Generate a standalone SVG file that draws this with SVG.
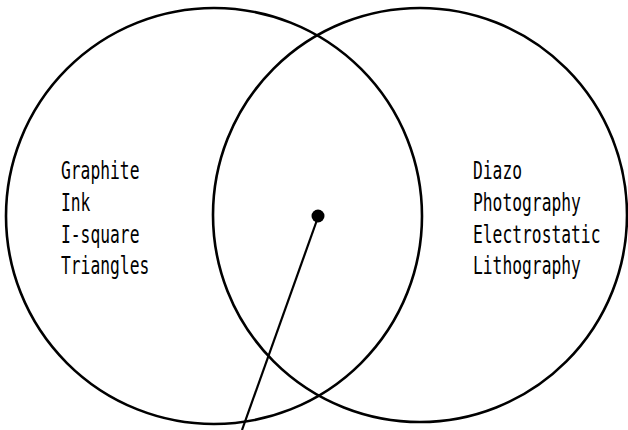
<svg xmlns="http://www.w3.org/2000/svg" width="628" height="430" viewBox="0 0 628 430">
<style>
.ring{fill:none;stroke:#000;stroke-width:2.6}
.lbl{font-family:"DejaVu Sans Mono","Liberation Mono",monospace;font-size:16.3px;fill:#000}
.ptr{stroke:#000;stroke-width:2.2;fill:none}
</style>
<rect width="628" height="430" fill="#fff"/>
<g id="node-drawing">
<circle class="ring" cx="214" cy="216" r="208"/>
<g transform="translate(61,0) scale(1,1.53)">
<text class="lbl" x="0" y="117">Graphite</text>
<text class="lbl" x="0" y="137.9">Ink</text>
<text class="lbl" x="0" y="158.8">I-square</text>
<text class="lbl" x="0" y="179.1">Triangles</text>
</g>
</g>
<g id="node-reproduction">
<circle class="ring" cx="420" cy="215" r="207"/>
<g transform="translate(473,0) scale(1,1.53)">
<text class="lbl" x="0" y="117">Diazo</text>
<text class="lbl" x="0" y="137.9">Photography</text>
<text class="lbl" x="0" y="158.8">Electrostatic</text>
<text class="lbl" x="0" y="179.1">Lithography</text>
</g>
</g>
<g id="node-dot">
<circle cx="318" cy="216" r="6.5" fill="#000"/>
</g>
<g id="connectors">
<line class="ptr" x1="317" y1="220" x2="242" y2="430"/>
</g>
</svg>
